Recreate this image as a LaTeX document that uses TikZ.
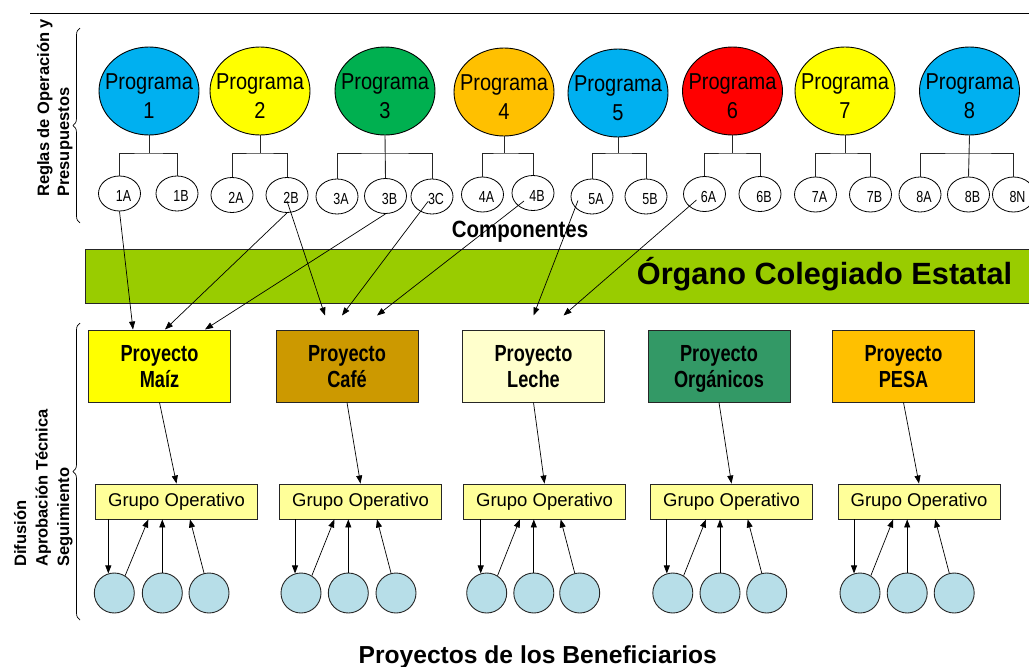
\documentclass[tikz,border=0pt]{standalone}
\usepackage{fontspec}
\setmainfont{Liberation Sans}
\newfontfamily\narrowA[FakeStretch=0.87]{Liberation Sans}
\newfontfamily\narrowB[FakeStretch=0.78]{Liberation Sans}
\usetikzlibrary{shapes.geometric,arrows.meta,calc,decorations.pathreplacing}

\definecolor{pblue}{HTML}{00B0F0}
\definecolor{pyellow}{HTML}{FFFF00}
\definecolor{pgreen}{HTML}{00B050}
\definecolor{porange}{HTML}{FFC000}
\definecolor{pred}{HTML}{FF0000}
\definecolor{barg}{HTML}{99CC00}
\definecolor{cafec}{HTML}{CC9900}
\definecolor{lechec}{HTML}{FFFFCC}
\definecolor{organc}{HTML}{339966}
\definecolor{grupoc}{HTML}{FFFF99}
\definecolor{benefc}{HTML}{B7DEE8}
\definecolor{edgec}{HTML}{262626}

\newcommand{\ProjLines}[1]{\rule{0pt}{22.4pt}Proyecto\\#1\vphantom{g}}

\begin{document}
\begin{tikzpicture}[x=1pt,y=-1pt,
  prog/.style={ellipse,draw=black,line width=0.9pt,minimum width=100pt,minimum height=88pt,inner sep=0pt},
  plab/.style={yshift=-5.5pt,font=\narrowA\fontsize{23}{29}\selectfont,align=center,inner sep=0pt},
  comp/.style={ellipse,draw=black,line width=0.8pt,fill=white,minimum width=42pt,minimum height=35pt,inner sep=0pt},
  clab/.style={xshift=4pt,yshift=-2.5pt,font=\narrowB\fontsize{16}{18}\selectfont,inner sep=0pt},
  tree/.style={draw=edgec,line width=0.9pt},
  arr/.style={draw=black,line width=0.7pt,-{Triangle[length=8pt,width=6pt]}},
  proj/.style={rectangle,draw=edgec,line width=1pt,minimum width=142pt,minimum height=72pt,inner sep=0pt,align=center,font=\narrowB\bfseries\fontsize{23.3}{26.5}\selectfont},
  grupo/.style={rectangle,draw=edgec,line width=0.9pt,fill=grupoc,minimum width=162pt,minimum height=35pt,inner sep=0pt,font=\fontsize{18.5}{20}\selectfont},
  benef/.style={circle,draw=edgec,line width=0.9pt,fill=benefc,minimum size=40pt,inner sep=0pt},
  sidelab/.style={rotate=90,anchor=base west,align=left,inner sep=0pt,font=\bfseries\fontsize{16.5}{20}\selectfont},
  bracec/.style={draw=black,line width=0.7pt,decorate,decoration={brace,amplitude=7pt}}
]
\useasboundingbox (0,0) rectangle (1029,667);
\clip (0,0) rectangle (1029,667);

% top rule
\coordinate (ruleL) at (30,13);
\coordinate (ruleR) at (1029,13);
\draw[line width=1pt] (ruleL) -- (ruleR);

% braces
\coordinate (br1a) at (80,223);
\coordinate (br1b) at (80,28);
\coordinate (br2a) at (80,620);
\coordinate (br2b) at (80,323);
\draw[bracec] (br1a) -- (br1b);
\draw[bracec] (br2a) -- (br2b);

% side labels (anchor = baseline of the last line)
\node[sidelab] (lab1) at (69,197) {Reglas de Operación y\\Presupuestos};
\node[sidelab,font=\bfseries\fontsize{16.5}{21.5}\selectfont] (lab2) at (69,567) {Difusión\\Aprobación Técnica\\Seguimiento};

% programs
\node[prog,fill=pblue,label={[plab]center:Programa\\1}] (p1) at (149,91) {};
\node[prog,fill=pyellow,label={[plab]center:Programa\\2}] (p2) at (260,91) {};
\node[prog,fill=pgreen,label={[plab]center:Programa\\3}] (p3) at (385,91) {};
\node[prog,fill=porange,label={[plab]center:Programa\\4}] (p4) at (504,92) {};
\node[prog,fill=pblue,label={[plab]center:Programa\\5}] (p5) at (618,93) {};
\node[prog,fill=pred,label={[plab]center:Programa\\6}] (p6) at (732.5,91) {};
\node[prog,fill=pyellow,label={[plab]center:Programa\\7}] (p7) at (845,91) {};
\node[prog,fill=pblue,label={[plab]center:Programa\\8}] (p8) at (969.5,91) {};

% components
\node[comp,label={[clab]center:1A}] (c1A) at (119.5,193.5) {};
\node[comp,label={[clab]center:1B}] (c1B) at (177,193.5) {};
\node[comp,label={[clab]center:2A}] (c2A) at (232,195) {};
\node[comp,label={[clab]center:2B}] (c2B) at (287,195) {};
\node[comp,label={[clab]center:3A}] (c3A) at (337,196.5) {};
\node[comp,label={[clab]center:3B}] (c3B) at (385.5,196) {};
\node[comp,label={[clab]center:3C}] (c3C) at (432,196.5) {};
\node[comp,label={[clab]center:4A}] (c4A) at (482.5,194.5) {};
\node[comp,label={[clab]center:4B}] (c4B) at (533,193) {};
\node[comp,label={[clab]center:5A}] (c5A) at (592,196.5) {};
\node[comp,label={[clab]center:5B}] (c5B) at (646,196.5) {};
\node[comp,label={[clab]center:6A}] (c6A) at (704.5,194) {};
\node[comp,label={[clab]center:6B}] (c6B) at (760,194) {};
\node[comp,label={[clab]center:7A}] (c7A) at (815.5,194.5) {};
\node[comp,label={[clab]center:7B}] (c7B) at (870.5,194.5) {};
\node[comp,label={[clab]center:8A}] (c8A) at (920,194.5) {};
\node[comp,label={[clab]center:8B}] (c8B) at (968.5,194.5) {};
\node[comp,label={[clab]center:8N}] (c8N) at (1013.5,194.5) {};

% tree connectors
\coordinate (bar) at (0,153);
\draw[tree] (p1.south) -- (p1.south |- bar);
\draw[tree] (c1A.north) |- (p1.south |- bar) -| (c1B.north);
\draw[tree] (p2.south) -- (p2.south |- bar);
\draw[tree] (c2A.north) |- (p2.south |- bar) -| (c2B.north);
\draw[tree] (p3.south) -- (c3B.north);
\draw[tree] (c3A.north) |- (p3.south |- bar) -| (c3C.north);
\draw[tree] (p4.south) -- (p4.south |- bar);
\draw[tree] (c4A.north) |- (p4.south |- bar) -| (c4B.north);
\draw[tree] (p5.south) -- (p5.south |- bar);
\draw[tree] (c5A.north) |- (p5.south |- bar) -| (c5B.north);
\draw[tree] (p6.south) -- (p6.south |- bar);
\draw[tree] (c6A.north) |- (p6.south |- bar) -| (c6B.north);
\draw[tree] (p7.south) -- (p7.south |- bar);
\draw[tree] (c7A.north) |- (p7.south |- bar) -| (c7B.north);
\draw[tree] (p8.south) -- (c8B.north);
\draw[tree] (c8A.north) |- (p8.south |- bar) -| (c8N.north);

\node[font=\narrowA\bfseries\fontsize{23.5}{26}\selectfont,anchor=base,inner sep=0pt] (compl) at (520,237) {Componentes};

% green bar
\node[draw=edgec,line width=0.8pt,fill=barg,rectangle,anchor=north west,minimum width=960pt,minimum height=54pt,inner sep=0pt] (organo) at (85,249) {};
\node[font=\bfseries\fontsize{30.7}{34}\selectfont,anchor=base,inner sep=0pt] (organot) at (824.5,284) {Órgano Colegiado Estatal};

% projects
\node[proj,fill=pyellow] (maiz) at (159.5,366) {\ProjLines{Maíz}};
\node[proj,fill=cafec] (cafe) at (347,366) {\ProjLines{Café}};
\node[proj,fill=lechec] (leche) at (533.5,366) {\ProjLines{Leche}};
\node[proj,fill=organc] (organ) at (719,366) {\ProjLines{Orgánicos}};
\node[proj,fill=porange] (pesa) at (903.5,366) {\ProjLines{PESA}};

% component -> project arrows
\draw[arr] (c1A.south) -- ($(maiz.north)+(-26.5,0)$);
\draw[arr] (c2B.south) -- ($(maiz.north)+(5.5,0)$);
\draw[arr] (c3B.south) -- ($(maiz.north)+(45.5,0)$);
\draw[arr] ($(c2B.center)+(0,6)$) -- ($(cafe.north)+(-22,-14)$);
\draw[arr] ($(c3C.center)+(-4,5)$) -- ($(cafe.north)+(-5,-14)$);
\draw[arr] ($(c4B.center)+(-9,8)$) -- ($(cafe.north)+(30,-14)$);
\draw[arr] ($(c5A.center)+(-14,4)$) -- ($(leche.north)+(0,-14)$);
\draw[arr] ($(c6A.center)+(-8,6)$) -- ($(leche.north)+(30,-14)$);

% grupos
\node[grupo] (g1) at (176.5,501.5) {Grupo Operativo};
\node[grupo] (g2) at (360.5,501.5) {Grupo Operativo};
\node[grupo] (g3) at (544.5,501.5) {Grupo Operativo};
\node[grupo] (g4) at (731.5,501.5) {Grupo Operativo};
\node[grupo] (g5) at (919,501.5) {Grupo Operativo};

\draw[arr] (maiz.south) -- (g1.north);
\draw[arr] (cafe.south) -- (g2.north);
\draw[arr] (leche.south) -- (g3.north);
\draw[arr] (organ.south) -- (g4.north);
\draw[arr] (pesa.south) -- (g5.north);

% beneficiaries
\foreach \g/\xa/\xb/\xc in {1/114.3/162.3/209, 2/301/348.3/396, 3/486.7/533.8/579.7, 4/672.8/720/766.7, 5/860/907.2/954.2}{
  \node[benef] (b\g a) at (\xa,593) {};
  \node[benef] (b\g b) at (\xb,593) {};
  \node[benef] (b\g c) at (\xc,593) {};
  \draw[arr] (g\g.south -| b\g a.107) -- (b\g a.107);
  \draw[arr] (b\g a.58) -- ($(g\g.south -| b\g b)+(-14,0)$);
  \draw[arr] (b\g b.north) -- (b\g b.north |- g\g.south);
  \draw[arr] (b\g c.104) -- ($(g\g.south -| b\g c)+(-19,0)$);
}

\node[font=\bfseries\fontsize{24.6}{28}\selectfont,anchor=base,inner sep=0pt] (title) at (537.8,663) {Proyectos de los Beneficiarios};
\end{tikzpicture}
\end{document}
